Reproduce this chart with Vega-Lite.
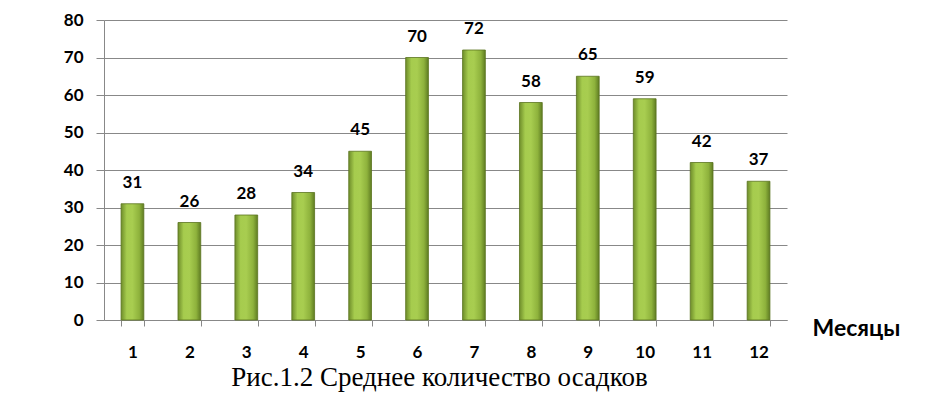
{
  "$schema": "https://vega.github.io/schema/vega-lite/v6.json",
  "width": 683,
  "height": 300,
  "autosize": "none",
  "padding": {"left": 104, "top": 20, "right": 142, "bottom": 78},
  "background": "white",
  "config": {"view": {"stroke": null}, "font": "Lato"},
  "data": {"values": [
    {"month": "1", "value": 31}, {"month": "2", "value": 26}, {"month": "3", "value": 28},
    {"month": "4", "value": 34}, {"month": "5", "value": 45}, {"month": "6", "value": 70},
    {"month": "7", "value": 72}, {"month": "8", "value": 58}, {"month": "9", "value": 65},
    {"month": "10", "value": 59}, {"month": "11", "value": 42}, {"month": "12", "value": 37}
  ]},
  "title": {
    "text": "Рис.1.2 Среднее количество осадков",
    "orient": "bottom",
    "anchor": "middle",
    "font": "Liberation Serif",
    "fontSize": 27,
    "fontWeight": "normal",
    "color": "#000",
    "offset": 5,
    "dx": -6
  },
  "encoding": {
    "x": {
      "field": "month", "type": "ordinal", "sort": null,
      "scale": {"paddingInner": 0.6, "paddingOuter": 0.3},
      "axis": {
        "labelAngle": 0, "labelFont": "Lato", "labelFontSize": 17, "labelFontWeight": "bold",
        "labelColor": "#000", "labelPadding": 18, "tickBand": "extent", "tickSize": 6,
        "tickColor": "#888", "domainColor": "#888",
        "title": "Месяцы", "titleFont": "Lato", "titleFontSize": 23, "titleFontWeight": "bold",
        "titleColor": "#000", "titleAlign": "left", "titleBaseline": "alphabetic",
        "titleX": 708, "titleY": 15, "titleAnchor": "start"
      }
    },
    "y": {
      "field": "value", "type": "quantitative",
      "scale": {"domain": [0, 80]},
      "axis": {
        "values": [0, 10, 20, 30, 40, 50, 60, 70, 80], "title": null,
        "labelFont": "Lato", "labelFontSize": 17, "labelFontWeight": "bold", "labelColor": "#000",
        "labelPadding": 13, "tickSize": 8, "tickColor": "#888", "domainColor": "#888",
        "gridColor": "#888", "gridOpacity": 1
      }
    }
  },
  "layer": [
    {
      "mark": {
        "type": "bar",
        "stroke": "#5a7420", "strokeWidth": 0.8,
        "color": {
          "gradient": "linear", "x1": 0, "x2": 1, "y1": 0, "y2": 0,
          "stops": [
            {"offset": 0, "color": "#6e8d2a"},
            {"offset": 0.25, "color": "#a6cc4e"},
            {"offset": 0.5, "color": "#a8cd50"},
            {"offset": 0.8, "color": "#8eb23c"},
            {"offset": 1, "color": "#5f7c22"}
          ]
        }
      }
    },
    {
      "mark": {"type": "text", "baseline": "alphabetic", "dy": -16, "font": "Lato", "fontSize": 17, "fontWeight": "bold", "color": "#000"},
      "encoding": {"text": {"field": "value", "type": "quantitative"}}
    }
  ]
}
